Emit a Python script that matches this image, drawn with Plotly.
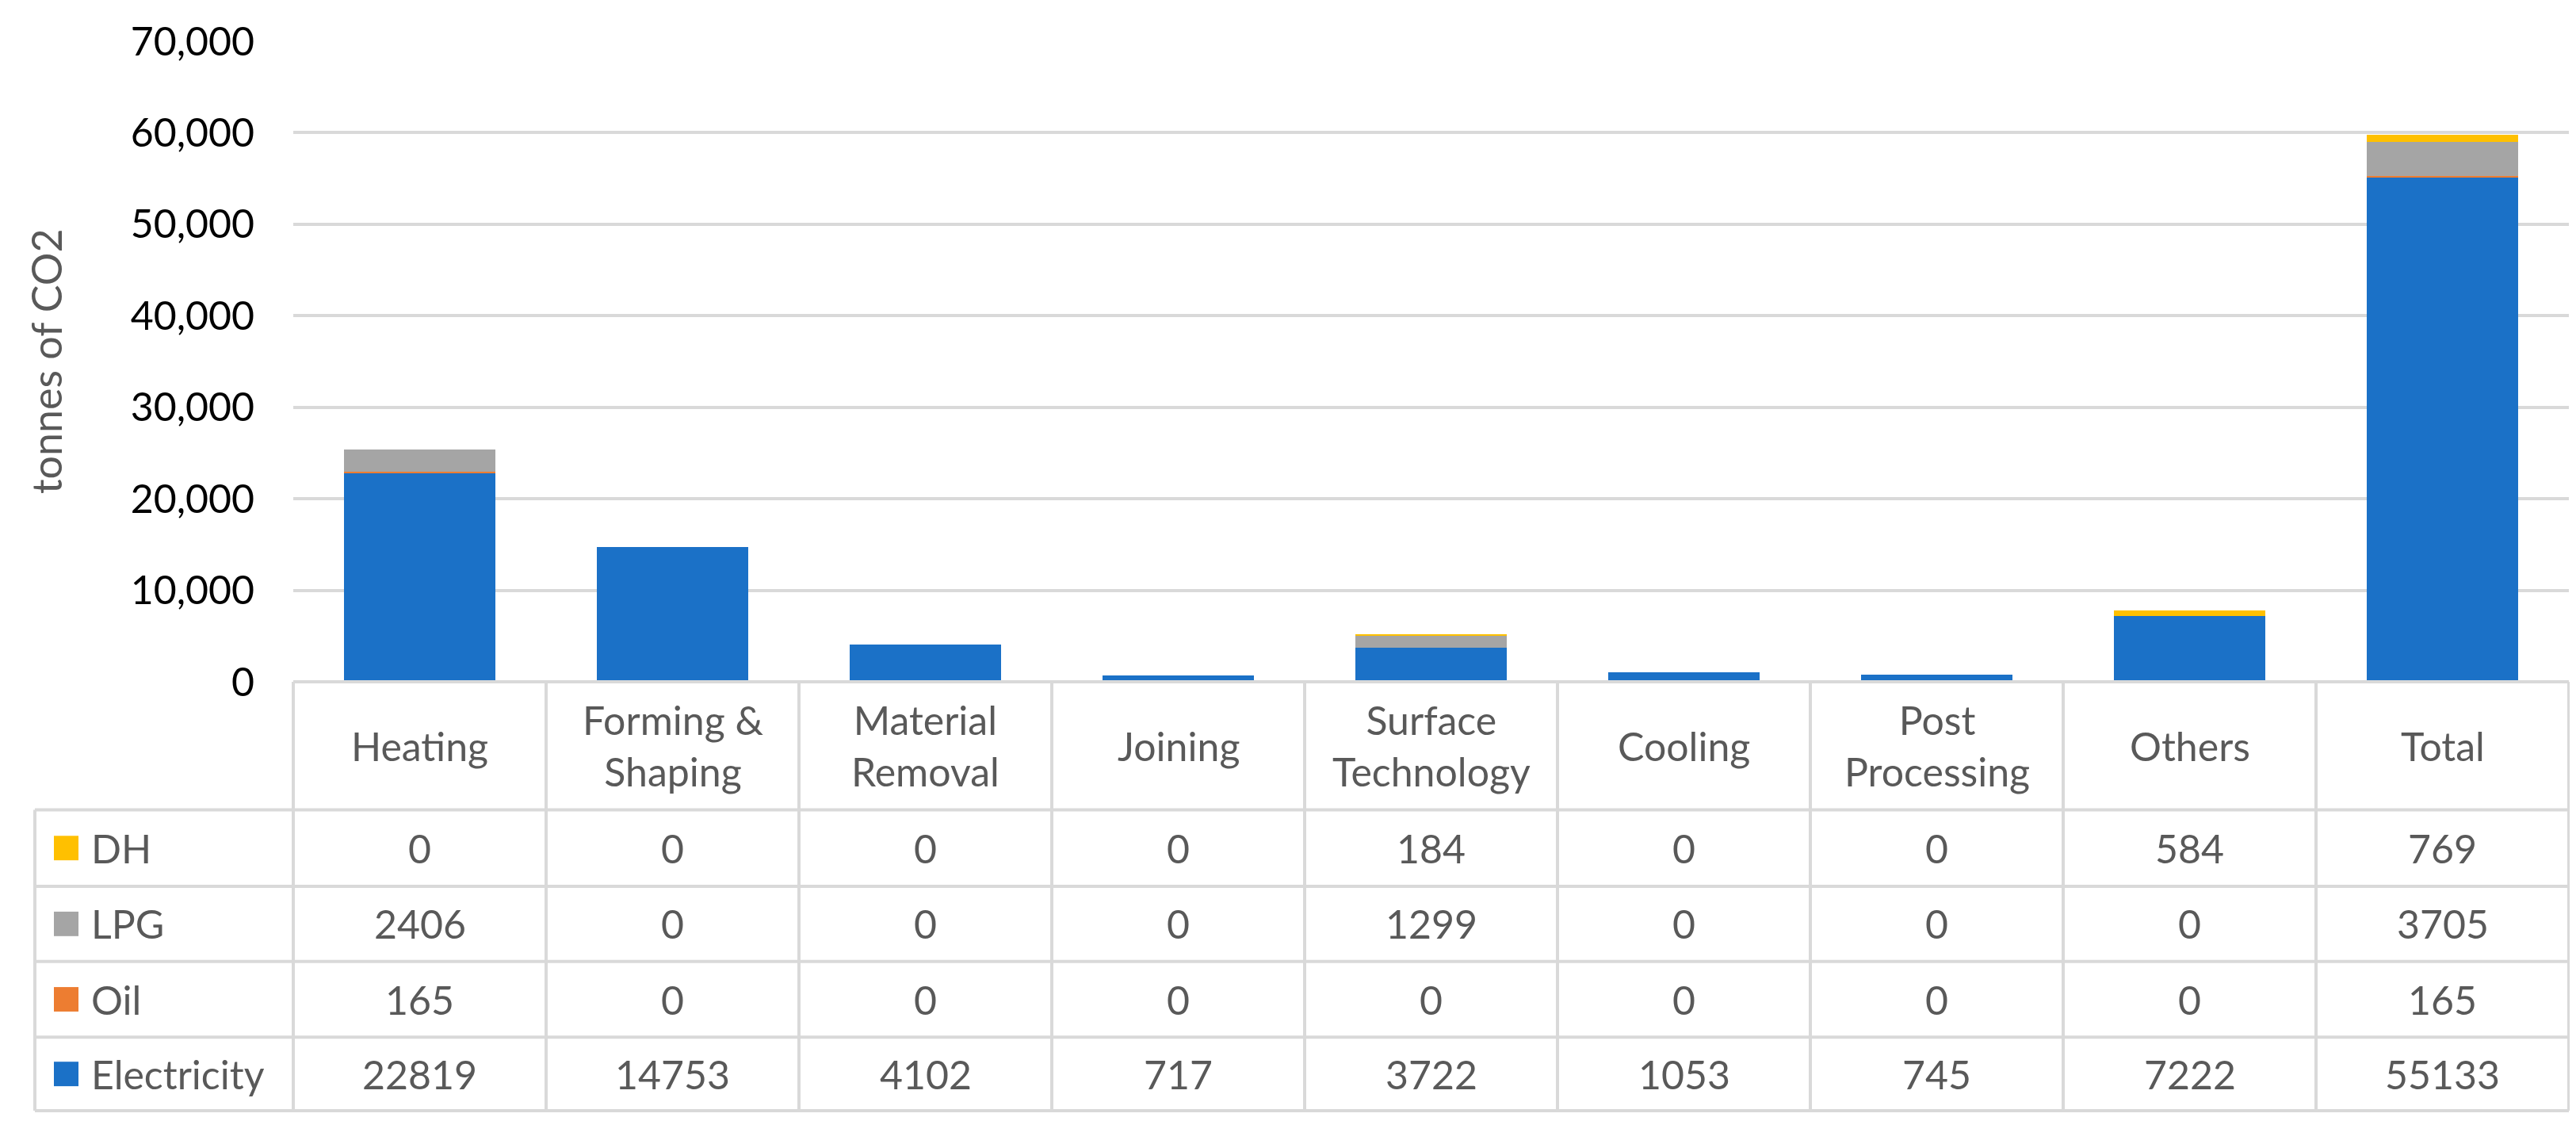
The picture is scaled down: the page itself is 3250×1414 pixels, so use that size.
import plotly.graph_objects as go

# ---------------- data ----------------
categories = ["Heating", "Forming & Shaping", "Material Removal", "Joining",
              "Surface Technology", "Cooling", "Post Processing", "Others", "Total"]
header_labels = ["Heating", "Forming &<br>Shaping", "Material<br>Removal", "Joining",
                 "Surface<br>Technology", "Cooling", "Post<br>Processing", "Others", "Total"]

electricity = [22819, 14753, 4102, 717, 3722, 1053, 745, 7222, 55133]
oil = [165, 0, 0, 0, 0, 0, 0, 0, 165]
lpg = [2406, 0, 0, 0, 1299, 0, 0, 0, 3705]
dh = [0, 0, 0, 0, 184, 0, 0, 584, 769]

y_ticks = [0, 10000, 20000, 30000, 40000, 50000, 60000, 70000]
y_title = "tonnes of CO2"

# stacking order (bottom -> top) and table order (top -> bottom)
stack_series = [("Electricity", electricity, "#1B71C7"),
                ("Oil", oil, "#ED7D31"),
                ("LPG", lpg, "#A5A5A5"),
                ("DH", dh, "#FFC000")]
table_series = list(reversed(stack_series))

# ---------------- layout constants ----------------
W, H = 3250, 1414
L, R, T, B = 362, 17, 41, 562
PLOT_W = W - L - R
PLOT_H = H - T - B
FONT = "Lato, 'Open Sans', sans-serif"
FS = 50
GRID = "#D9D9D9"
TXT = "#595959"


def px_y(py):
    return (H - B - py) / PLOT_H


def px_x(px):
    return (px - L) / PLOT_W


row_edges_px = [852, 1014, 1111, 1206, 1302, 1395]
row_edges = [px_y(p) for p in row_edges_px]
left_col = px_x(36)

fig = go.Figure()
for name, vals, color in stack_series:
    fig.add_trace(go.Bar(x=categories, y=vals, name=name, width=0.6,
                         marker=dict(color=color, line=dict(width=0))))

shapes = []
n = len(categories)
line = dict(color=GRID, width=4)
# horizontal lines
shapes.append(dict(type="line", xref="paper", yref="paper", x0=0, x1=1,
                   y0=row_edges[0], y1=row_edges[0], line=line))
for yv in row_edges[1:]:
    shapes.append(dict(type="line", xref="paper", yref="paper", x0=left_col, x1=1,
                       y0=yv, y1=yv, line=line))
# vertical lines
for k in range(n + 1):
    xv = k / n
    shapes.append(dict(type="line", xref="paper", yref="paper", x0=xv, x1=xv,
                       y0=row_edges[0], y1=row_edges[-1], line=line))
shapes.append(dict(type="line", xref="paper", yref="paper", x0=left_col, x1=left_col,
                   y0=row_edges[1], y1=row_edges[-1], line=line))

annotations = []
# header
hc = (row_edges[0] + row_edges[1]) / 2
for i, lab in enumerate(header_labels):
    annotations.append(dict(x=(i + 0.5) / n, y=hc, xref="paper", yref="paper",
                            text=lab, showarrow=False, xanchor="center", yanchor="middle",
                            font=dict(family=FONT, size=FS, color=TXT)))
# rows
sq = 31
for r, (name, vals, color) in enumerate(table_series):
    yc = (row_edges[r + 1] + row_edges[r + 2]) / 2
    ycp = H - B - yc * PLOT_H  # pixel center
    shapes.append(dict(type="rect", xref="paper", yref="paper",
                       x0=px_x(60), x1=px_x(60 + sq),
                       y0=px_y(ycp + sq / 2), y1=px_y(ycp - sq / 2),
                       fillcolor=color, line=dict(width=0)))
    annotations.append(dict(x=px_x(105), y=yc, xref="paper", yref="paper",
                            text=name, showarrow=False, xanchor="left", yanchor="middle",
                            font=dict(family=FONT, size=FS, color=TXT)))
    for i, v in enumerate(vals):
        annotations.append(dict(x=(i + 0.5) / n, y=yc, xref="paper", yref="paper",
                                text=str(v), showarrow=False, xanchor="center", yanchor="middle",
                                font=dict(family=FONT, size=FS, color=TXT)))
# y-axis title
annotations.append(dict(x=px_x(50), y=0.5, xref="paper", yref="paper", text=y_title,
                        textangle=-90, showarrow=False, xanchor="center", yanchor="middle",
                        font=dict(family=FONT, size=52, color=TXT)))

fig.update_layout(
    width=W, height=H,
    margin=dict(l=L, r=R, t=T, b=B, pad=0),
    barmode="stack",
    showlegend=False,
    plot_bgcolor="white", paper_bgcolor="white",
    shapes=shapes, annotations=annotations,
    xaxis=dict(range=[-0.5, n - 0.5], showticklabels=False, showgrid=False,
               zeroline=False, showline=False, ticks=""),
    yaxis=dict(range=[0, 70000], tickvals=y_ticks, tickformat=",", showgrid=True,
               gridcolor=GRID, gridwidth=4, zeroline=False, showline=False, ticks="",
               ticklabelstandoff=48,
               tickfont=dict(family=FONT, size=FS, color="#000000")),
)

fig.write_html("out.html")
